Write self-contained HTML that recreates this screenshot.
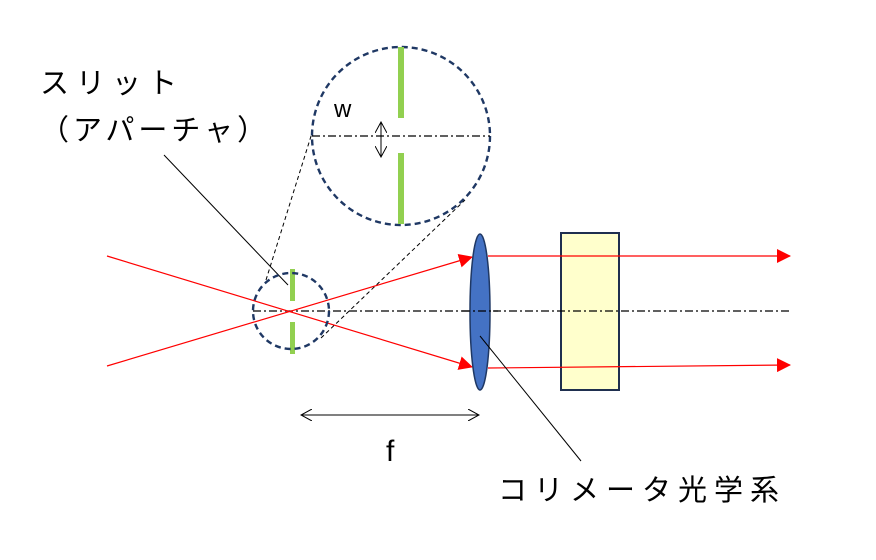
<!DOCTYPE html>
<html><head><meta charset="utf-8"><style>
html,body{margin:0;padding:0;background:#fff;width:876px;height:560px;overflow:hidden}
svg{display:block}
text{font-family:"Liberation Sans","Noto Sans CJK JP",sans-serif;fill:#000}
</style></head><body>
<svg width="876" height="560" viewBox="0 0 876 560" xmlns="http://www.w3.org/2000/svg">
<defs>
<marker id="ar2" markerWidth="14" markerHeight="14" refX="13" refY="7" orient="auto" markerUnits="userSpaceOnUse" viewBox="0 0 14 14">
<path d="M0,0 L14,7 L0,14 z" fill="#f00"/></marker>
<marker id="op" markerWidth="12" markerHeight="12" refX="11" refY="6" orient="auto-start-reverse" markerUnits="userSpaceOnUse" viewBox="0 0 12 12">
<path d="M0,0 L11,6 L0,12" fill="none" stroke="#000" stroke-width="1"/></marker>
</defs>
<rect x="561" y="233" width="58" height="157" fill="#FFFFCC" stroke="#1F2F4F" stroke-width="2"/>
<line x1="253" y1="311" x2="790" y2="311" stroke="#000" stroke-width="1.3" stroke-dasharray="8,3,2,3"/>
<line x1="107" y1="256" x2="472" y2="367" stroke="#f00" stroke-width="1.2" marker-end="url(#ar2)"/>
<line x1="107" y1="366" x2="472" y2="257" stroke="#f00" stroke-width="1.2" marker-end="url(#ar2)"/>
<line x1="488" y1="256" x2="790" y2="256" stroke="#f00" stroke-width="1.2" marker-end="url(#ar2)"/>
<line x1="488" y1="368" x2="790" y2="365" stroke="#f00" stroke-width="1.2" marker-end="url(#ar2)"/>
<ellipse cx="480" cy="312" rx="10" ry="78" fill="#4472C4" stroke="#1F3864" stroke-width="1.5"/>
<line x1="462" y1="311" x2="498" y2="311" stroke="#000" stroke-width="1.3" stroke-dasharray="8,3,2,3"/>
<line x1="480" y1="336" x2="581" y2="461" stroke="#000" stroke-width="1"/>
<line x1="164" y1="155" x2="288" y2="285" stroke="#000" stroke-width="1"/>
<line x1="266" y1="280" x2="312" y2="133" stroke="#000" stroke-width="1" stroke-dasharray="4,3"/>
<line x1="321" y1="338" x2="465" y2="200" stroke="#000" stroke-width="1" stroke-dasharray="4,3"/>
<rect x="290" y="269" width="5" height="32" fill="#92D050"/>
<rect x="290" y="322" width="5" height="32" fill="#92D050"/>
<circle cx="291" cy="311" r="38" fill="none" stroke="#1F3864" stroke-width="2.4" stroke-dasharray="6,4"/>
<circle cx="401" cy="136" r="89" fill="#fff" stroke="#1F3864" stroke-width="2.4" stroke-dasharray="6,4"/>
<rect x="398" y="47" width="6" height="71" fill="#92D050"/>
<rect x="398" y="153" width="6" height="71" fill="#92D050"/>
<line x1="312" y1="136" x2="490" y2="136" stroke="#000" stroke-width="1.3" stroke-dasharray="8,3,2,3"/>
<line x1="381" y1="122" x2="381" y2="157" stroke="#000" stroke-width="1" marker-start="url(#op)" marker-end="url(#op)"/>
<text x="334" y="117" font-size="24">w</text>
<line x1="301" y1="415" x2="479" y2="415" stroke="#000" stroke-width="1" marker-start="url(#op)" marker-end="url(#op)"/>
<text x="386" y="461" font-size="30">f</text>
<text x="40" y="93" font-size="29" letter-spacing="7">スリット</text>
<text x="40" y="140" font-size="29" letter-spacing="4">（アパーチャ）</text>
<text x="498" y="500" font-size="29" letter-spacing="7">コリメータ光学系</text>
</svg>
</body></html>
